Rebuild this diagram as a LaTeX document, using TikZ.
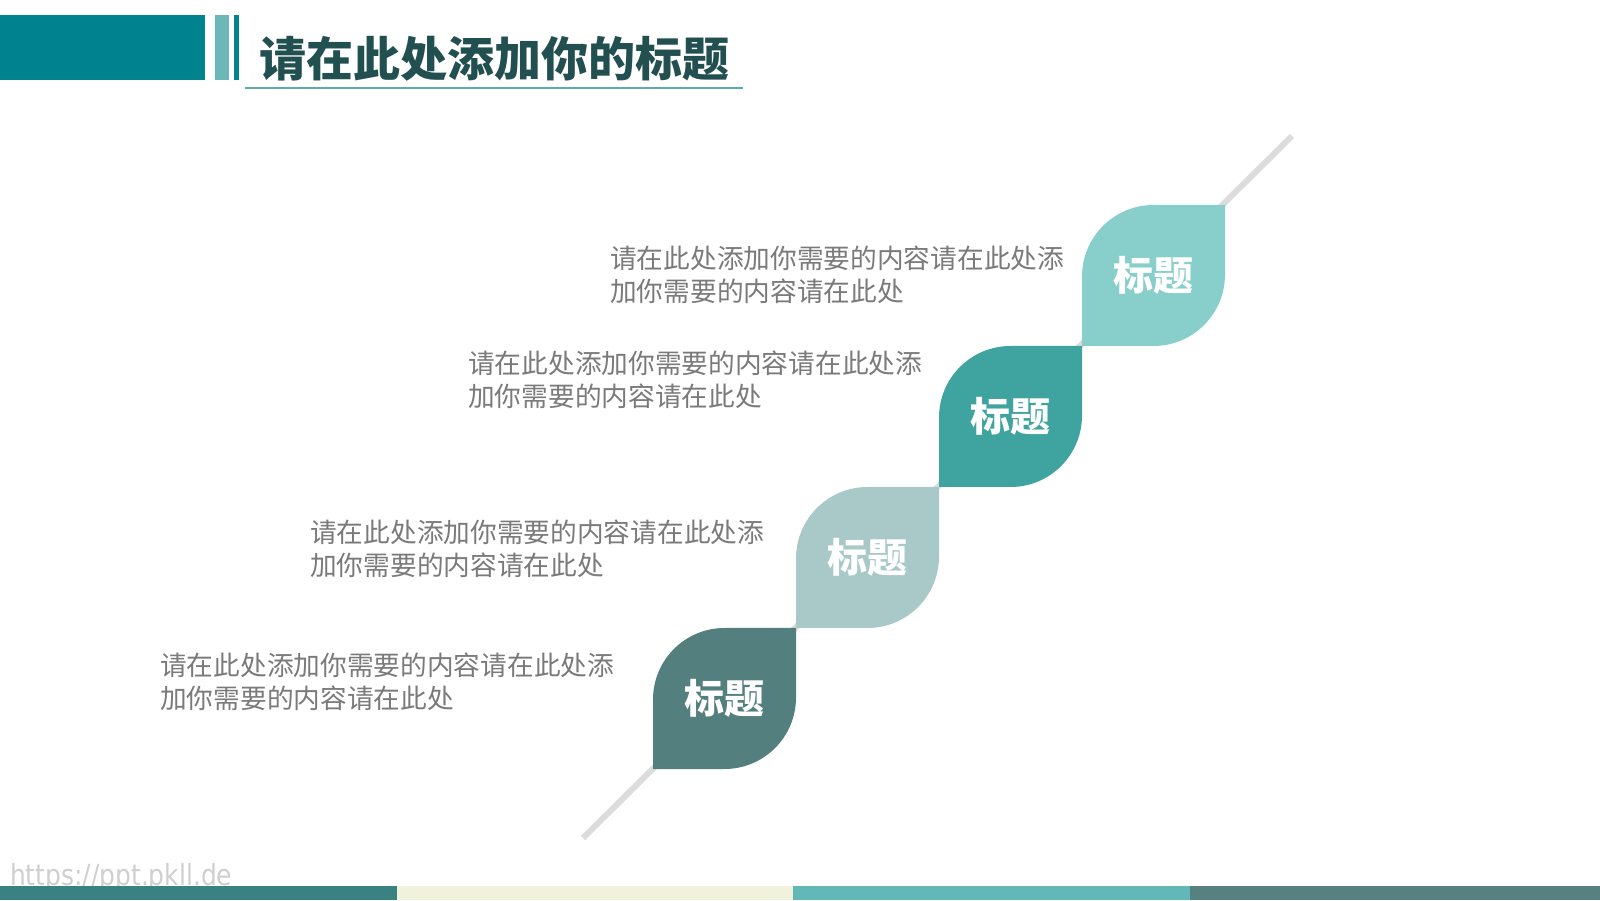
\documentclass[tikz,border=0pt]{standalone}
\usepackage{fontspec}
\usepackage{xcolor}
\usepackage{tikz}

\newfontfamily\cjk{Noto Sans CJK SC}
\newfontfamily\wmfont{DejaVu Sans}

\definecolor{HeadTeal}{HTML}{00838F}
\definecolor{HeadLight}{HTML}{6CB8B8}
\definecolor{TitleTeal}{HTML}{224F4F}
\definecolor{TitleLine}{HTML}{5FA9B0}
\definecolor{LeafA}{HTML}{88CFCC}
\definecolor{LeafB}{HTML}{3FA3A0}
\definecolor{LeafC}{HTML}{A9C9C8}
\definecolor{LeafD}{HTML}{537F7E}
\definecolor{StemGray}{HTML}{DCDCDC}
\definecolor{BodyGray}{HTML}{7A7A7A}
\definecolor{WaterGray}{HTML}{CFCFCF}
\definecolor{BarA}{HTML}{3A8282}
\definecolor{BarB}{HTML}{F0F2DC}
\definecolor{BarC}{HTML}{62B8B8}
\definecolor{BarD}{HTML}{578080}

\tikzset{
  leaflabel/.style={text=white, inner sep=0pt, font=\cjk\bfseries\fontsize{40}{40}\selectfont},
  bodytext/.style={anchor=west, align=left, inner sep=0pt, text=BodyGray, font=\cjk\fontsize{26.7}{33}\selectfont},
}

% leaf with sharp top right and bottom left corners
\newcommand{\drawleaf}[3]{%
  \fill[#1] (#2,#3) -- ++(0,69.5) arc[start angle=180,end angle=90,radius=71.5]
    -- ++(71.5,0) -- ++(0,-69.5) arc[start angle=0,end angle=-90,radius=71.5] -- cycle;}

\begin{document}
\begin{tikzpicture}[x=1pt,y=1pt]
\useasboundingbox (0,0) rectangle (1600,900);
\fill[white] (0,0) rectangle (1600,900);
%
\fill[HeadTeal] (0,820) rectangle (205,885);
\fill[HeadLight] (215,820) rectangle (229,885);
\fill[HeadTeal] (234,820) rectangle (239,885);
\node[anchor=west, inner sep=0pt, text=TitleTeal, font=\cjk\bfseries\fontsize{47}{47}\selectfont] (title) at (259,841) {请在此处添加你的标题};
\draw[line width=1.5pt, TitleLine] (245,812) -- (743,812);
%
\coordinate (stemLow) at (583,62);
\coordinate (stemHigh) at (1292,764);
\draw[line width=6pt, StemGray] (stemLow) -- (stemHigh);
%
\drawleaf{LeafA}{1082}{554}
\drawleaf{LeafB}{939}{413}
\drawleaf{LeafC}{796}{272}
\drawleaf{LeafD}{653}{131}
%
\node[leaflabel] (leafA) at (1153.5,624.5) {标题};
\node[leaflabel] (leafB) at (1010.5,483.5) {标题};
\node[leaflabel] (leafC) at (867.5,342.5) {标题};
\node[leaflabel] (leafD) at (724.5,201.5) {标题};
%
\node[bodytext] (textA) at (610,625.5) {请在此处添加你需要的内容请在此处添\\加你需要的内容请在此处};
\node[bodytext] (textB) at (468,520) {请在此处添加你需要的内容请在此处添\\加你需要的内容请在此处};
\node[bodytext] (textC) at (310,351.5) {请在此处添加你需要的内容请在此处添\\加你需要的内容请在此处};
\node[bodytext] (textD) at (160,218.5) {请在此处添加你需要的内容请在此处添\\加你需要的内容请在此处};
%
\node[anchor=base west, inner sep=0pt, text=WaterGray, font=\wmfont\fontsize{29}{29}\selectfont, xscale=0.86] (wmark) at (10,15) {https://ppt.pkll.de};
%
\fill[BarA] (0,0) rectangle (397,14);
\fill[BarB] (397,0) rectangle (793,14);
\fill[BarC] (793,0) rectangle (1190,14);
\fill[BarD] (1190,0) rectangle (1600,14);
\end{tikzpicture}
\end{document}
